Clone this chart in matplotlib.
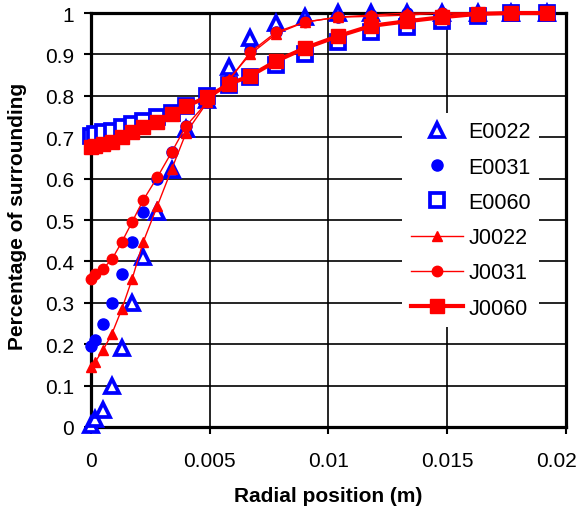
import matplotlib
matplotlib.use('Agg')
import matplotlib.pyplot as plt
import matplotlib.transforms as mtransforms
import numpy as np

plt.rcParams['font.family'] = ['Liberation Sans', 'DejaVu Sans']

# radial positions (m), shared by all series
radial = [0, 0.00017, 0.0005, 0.00088, 0.0013, 0.00173, 0.0022, 0.0028,
          0.0034, 0.0040, 0.0049, 0.0058, 0.0067, 0.0078, 0.0090, 0.0104,
          0.0118, 0.0133, 0.0148, 0.0163, 0.0177, 0.0192]

e0022 = [0.005, 0.02, 0.04, 0.10, 0.19, 0.30, 0.41, 0.52, 0.62, 0.72, 0.79,
         0.87, 0.94, 0.975, 0.99, 1.0, 1.0, 1.0, 1.0, 1.0, 1.0, 1.0]
e0031 = [0.196, 0.21, 0.25, 0.30, 0.37, 0.447, 0.52, 0.60, 0.664, 0.727, 0.785,
         0.84, 0.91, 0.955, 0.98, 0.99, 0.995, 1.0, 1.0, 1.0, 1.0, 1.0]
e0060 = [0.703, 0.708, 0.712, 0.716, 0.725, 0.732, 0.74, 0.749, 0.758, 0.775, 0.80,
         0.825, 0.845, 0.875, 0.90, 0.93, 0.954, 0.966, 0.98, 0.993, 1.0, 1.0]
j0022 = [0.145, 0.157, 0.185, 0.225, 0.285, 0.357, 0.447, 0.535, 0.623, 0.71, 0.785,
         0.84, 0.90, 0.95, 0.978, 0.99, 0.995, 1.0, 1.0, 1.0, 1.0, 1.0]
j0031 = [0.357, 0.37, 0.382, 0.405, 0.447, 0.495, 0.548, 0.604, 0.664, 0.727, 0.785,
         0.836, 0.905, 0.954, 0.978, 0.99, 0.992, 0.995, 1.0, 1.0, 1.0, 1.0]
j0060 = [0.676, 0.679, 0.683, 0.688, 0.70, 0.712, 0.725, 0.737, 0.756, 0.775, 0.797,
         0.828, 0.848, 0.884, 0.915, 0.944, 0.969, 0.98, 0.99, 0.998, 1.0, 1.0]

xticks = [0, 0.005, 0.01, 0.015, 0.02]
xticklabels = ['0', '0.005', '0.01', '0.015', '0.02']
yticks = [0, 0.1, 0.2, 0.3, 0.4, 0.5, 0.6, 0.7, 0.8, 0.9, 1.0]
yticklabels = ['0', '0.1', '0.2', '0.3', '0.4', '0.5', '0.6', '0.7', '0.8', '0.9', '1']

fig = plt.figure(figsize=(5.81, 5.10), dpi=100)
ax = fig.add_axes([0.1566, 0.1608, 0.8174, 0.8117])

blue = '#0000ff'
red = '#ff0000'

# experimental (open / blue markers, no line)
ax.plot(radial, e0022, ls='none', marker='^', ms=10, mfc='white', mec=blue, mew=2.7,
        label='E0022', clip_on=False, zorder=3)
ax.plot(radial, e0031, ls='none', marker='o', ms=8, mfc=blue, mec=blue,
        label='E0031', clip_on=False, zorder=3)
ax.plot(radial, e0060, ls='none', marker='s', ms=10, mfc='white', mec=blue, mew=2.7,
        label='E0060', clip_on=False, zorder=3)

# model (red lines with filled markers)
ax.plot(radial, j0022, color=red, lw=1, marker='^', ms=7.5,
        label='J0022', clip_on=False, zorder=4)
ax.plot(radial, j0031, color=red, lw=1, marker='o', ms=7.5,
        label='J0031', clip_on=False, zorder=4)
ax.plot(radial, j0060, color=red, lw=3, marker='s', ms=9.5,
        label='J0060', clip_on=False, zorder=4)

ax.set_xlim(0, 0.02)
ax.set_ylim(0, 1)
ax.set_xticks(xticks)
ax.set_xticklabels(xticklabels)
ax.set_yticks(yticks)
ax.set_yticklabels(yticklabels)

ax.grid(True, color='black', lw=1.2)
ax.set_axisbelow(True)
for s in ax.spines.values():
    s.set_linewidth(2.3)

ax.tick_params(axis='both', direction='out', length=5, width=1.5, labelsize=15)
ax.tick_params(axis='x', pad=12)
ax.tick_params(axis='y', pad=7)

# last x label sits against the figure edge, nudge it in a little
last = ax.get_xticklabels()[-1]
last.set_transform(last.get_transform() +
                   mtransforms.ScaledTranslation(-9 / 100, 0, fig.dpi_scale_trans))

ax.set_xlabel('Radial position (m)', fontsize=15, fontweight='bold', labelpad=12)
ax.set_ylabel('Percentage of surrounding', fontsize=15, fontweight='bold')
ax.yaxis.set_label_coords(-0.135, 0.51)

leg = ax.legend(loc='center', bbox_to_anchor=(0.80, 0.50), fontsize=15.5,
                frameon=True, facecolor='white', edgecolor='none', framealpha=1,
                fancybox=False, handlelength=2.4, handletextpad=0.25,
                labelspacing=0.66, borderpad=0.4, numpoints=1)
leg.set_zorder(5)

fig.savefig('out.png', dpi=100, facecolor='white')
